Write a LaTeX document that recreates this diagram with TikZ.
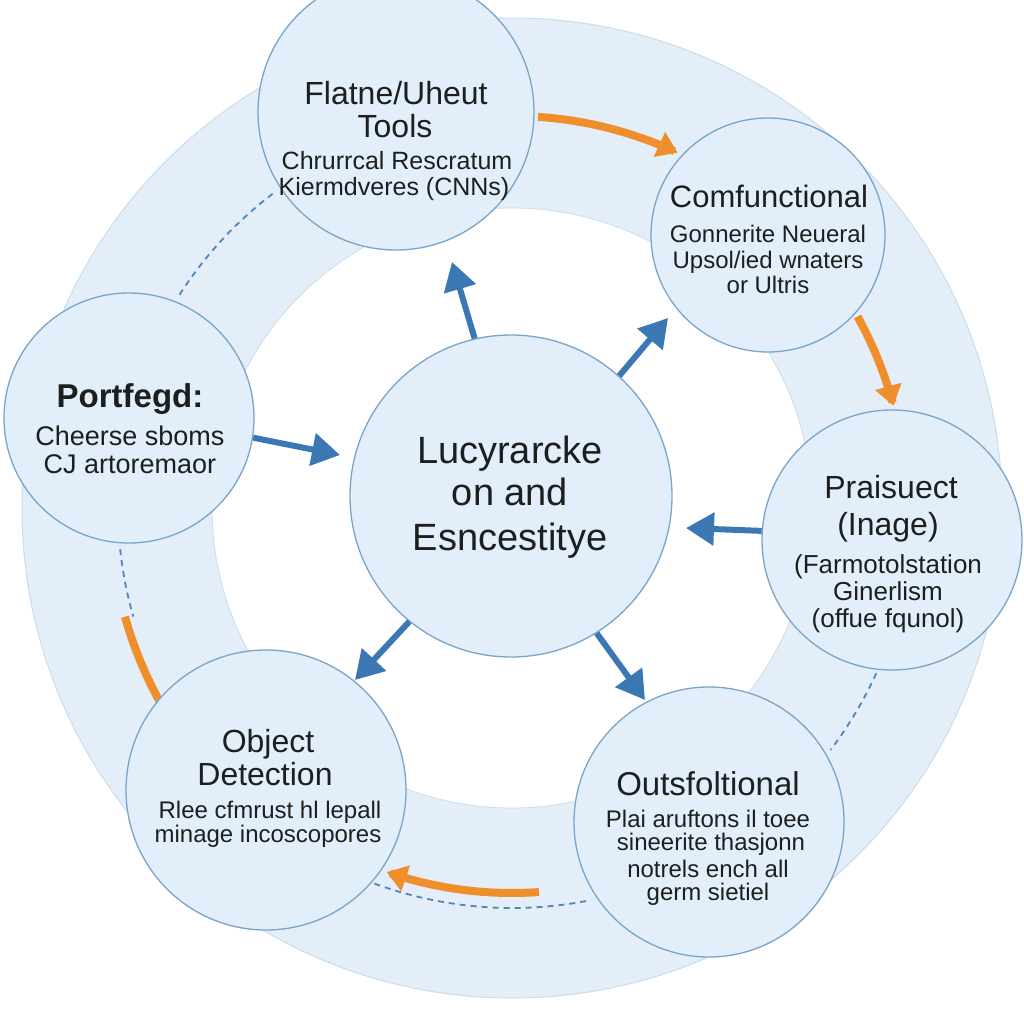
\documentclass[tikz,border=0pt]{standalone}
\usepackage{fontspec}
\setmainfont{Liberation Sans}
\usetikzlibrary{arrows.meta}
\definecolor{ringc}{HTML}{E3EEF8}
\definecolor{ringline}{HTML}{C9DDEE}
\definecolor{bubfill}{HTML}{E2EFFA}
\definecolor{bubline}{HTML}{78A5C9}
\definecolor{orangec}{HTML}{EE8F2C}
\definecolor{bluec}{HTML}{3B78B3}
\definecolor{dashc}{HTML}{4F86BF}
\definecolor{txt}{HTML}{1E1E1E}
\tikzset{
  bub/.style={circle, draw=bubline, fill=bubfill, line width=1.3pt, inner sep=0pt},
  ttl/.style={anchor=base, text=txt, inner sep=0pt, font=\fontsize{32}{36}\selectfont},
  subt/.style={anchor=base, text=txt, inner sep=0pt, font=\fontsize{24}{28}\selectfont},
  orng/.style={draw=orangec, line width=8pt},
  orhead/.style={-{Triangle[length=20pt,width=26pt]}},
  barrow/.style={draw=bluec, line width=6pt, -{Triangle[length=28pt,width=32pt]}},
  dsh/.style={draw=dashc, line width=1.8pt, dash pattern=on 6pt off 5pt},
}
\begin{document}
\begin{tikzpicture}[x=1pt,y=-1pt]
\useasboundingbox (0,0) rectangle (1024,1024);
\fill[white] (0,0) rectangle (1024,1024);
\coordinate (O) at (512,508);
% ring
\fill[ringc, even odd rule] (O) circle[radius=490pt] (O) circle[radius=300pt];
\draw[ringline, line width=1pt] (O) circle[radius=490pt];
\draw[ringline, line width=0.8pt] (O) circle[radius=300pt];
% dashed arcs
\draw[dsh] plot[domain=232.7:212, samples=40] ({512+395*cos(\x)},{508+395*sin(\x)});
\draw[dsh] plot[domain=174:164, samples=20] ({512+394*cos(\x)},{508+394*sin(\x)});
\draw[dsh] plot[domain=24.4:37.2, samples=30] ({512+400*cos(\x)},{508+400*sin(\x)});
\draw[dsh] plot[domain=111.7:78.6, samples=50] ({512+400*cos(\x)},{508+400*sin(\x)});
% orange left arc (under circle)
\draw[orng] plot[domain=164.3:151.3, samples=30] ({512+402*cos(\x)},{508+402*sin(\x)});
% circles
\node[bub, minimum size=276pt] (flat) at (396,112) {};
\node[bub, minimum size=234pt] (comf) at (768,235) {};
\node[bub, minimum size=250pt] (port) at (129,418) {};
\node[bub, minimum size=322pt] (cen) at (511,496) {};
\node[bub, minimum size=260pt] (prai) at (892,540) {};
\node[bub, minimum size=280pt] (obj) at (266,790) {};
\node[bub, minimum size=270pt] (outs) at (709,822) {};
% orange arrows
\draw[orng, orhead] plot[domain=-86.2:-65, samples=40] ({512+392*cos(\x)},{508+392*sin(\x)});
\draw[orng, orhead] plot[domain=-29:-15, samples=30] ({512+395*cos(\x)},{508+395*sin(\x)});
\draw[orng, orhead] plot[domain=86:109, samples=40] ({512+385*cos(\x)},{508+385*sin(\x)});
% blue arrows
\coordinate (h1) at (452,262);
\coordinate (h2) at (668,318);
\coordinate (h3) at (340,455);
\coordinate (h4) at (686,528);
\coordinate (h5) at (355,680);
\coordinate (h6) at (645,700);
\draw[barrow] (cen.103.9) -- (h1);
\draw[barrow] (cen.48) -- (h2);
\draw[barrow] (port.-9.9) -- (h3);
\draw[barrow] (prai.176.5) -- (h4);
\draw[barrow] (cen.231) -- (h5);
\draw[barrow] (cen.302.4) -- (h6);
% texts: Flatne
\node[ttl] (f1) at (396,105) {Flatne/Uheut};
\node[ttl] (f2) at (395,138) {Tools};
\node[subt, font=\fontsize{25}{28}\selectfont] (f3) at (397,170) {Chrurrcal Rescratum};
\node[subt, font=\fontsize{25}{28}\selectfont] (f4) at (394,196) {Kiermdveres (CNNs)};
% Comfunctional
\node[ttl, font=\fontsize{31}{36}\selectfont] (c1) at (769,208) {Comfunctional};
\node[subt] (c2) at (768,242) {Gonnerite Neueral};
\node[subt] (c3) at (768,268) {Upsol/ied wnaters};
\node[subt] (c4) at (768,293) {or Ultris};
% Portfegd
\node[ttl, font=\fontsize{33}{36}\selectfont\bfseries] (p1) at (130,407) {Portfegd:};
\node[subt, font=\fontsize{27}{30}\selectfont] (p2) at (130,445) {Cheerse sboms};
\node[subt, font=\fontsize{27}{30}\selectfont] (p3) at (130,473) {CJ artoremaor};
% center
\node[ttl, font=\fontsize{38}{44}\selectfont] (m1) at (510,463) {Lucyrarcke};
\node[ttl, font=\fontsize{38}{44}\selectfont] (m2) at (510,505) {on and};
\node[ttl, font=\fontsize{38}{44}\selectfont] (m3) at (510,550) {Esncestitye};
% Praisuect
\node[ttl] (r1) at (891,498) {Praisuect};
\node[ttl] (r2) at (888,535) {(Inage)};
\node[subt, font=\fontsize{26}{30}\selectfont] (r3) at (888,573) {(Farmotolstation};
\node[subt, font=\fontsize{26}{30}\selectfont] (r4) at (888,600) {Ginerlism};
\node[subt, font=\fontsize{26}{30}\selectfont] (r5) at (888,627) {(offue fqunol)};
% Object
\node[ttl] (o1) at (268,752) {Object};
\node[ttl] (o2) at (265,785) {Detection};
\node[subt] (o3) at (270,818) {Rlee cfmrust hl lepall};
\node[subt] (o4) at (268,842) {minage incoscopores};
% Outsfoltional
\node[ttl, font=\fontsize{33}{36}\selectfont] (u1) at (708,795) {Outsfoltional};
\node[subt] (u2) at (708,827) {Plai aruftons il toee};
\node[subt] (u3) at (711,850) {sineerite thasjonn};
\node[subt] (u4) at (708,877) {notrels ench all};
\node[subt] (u5) at (708,900) {germ sietiel};
\end{tikzpicture}
\end{document}
